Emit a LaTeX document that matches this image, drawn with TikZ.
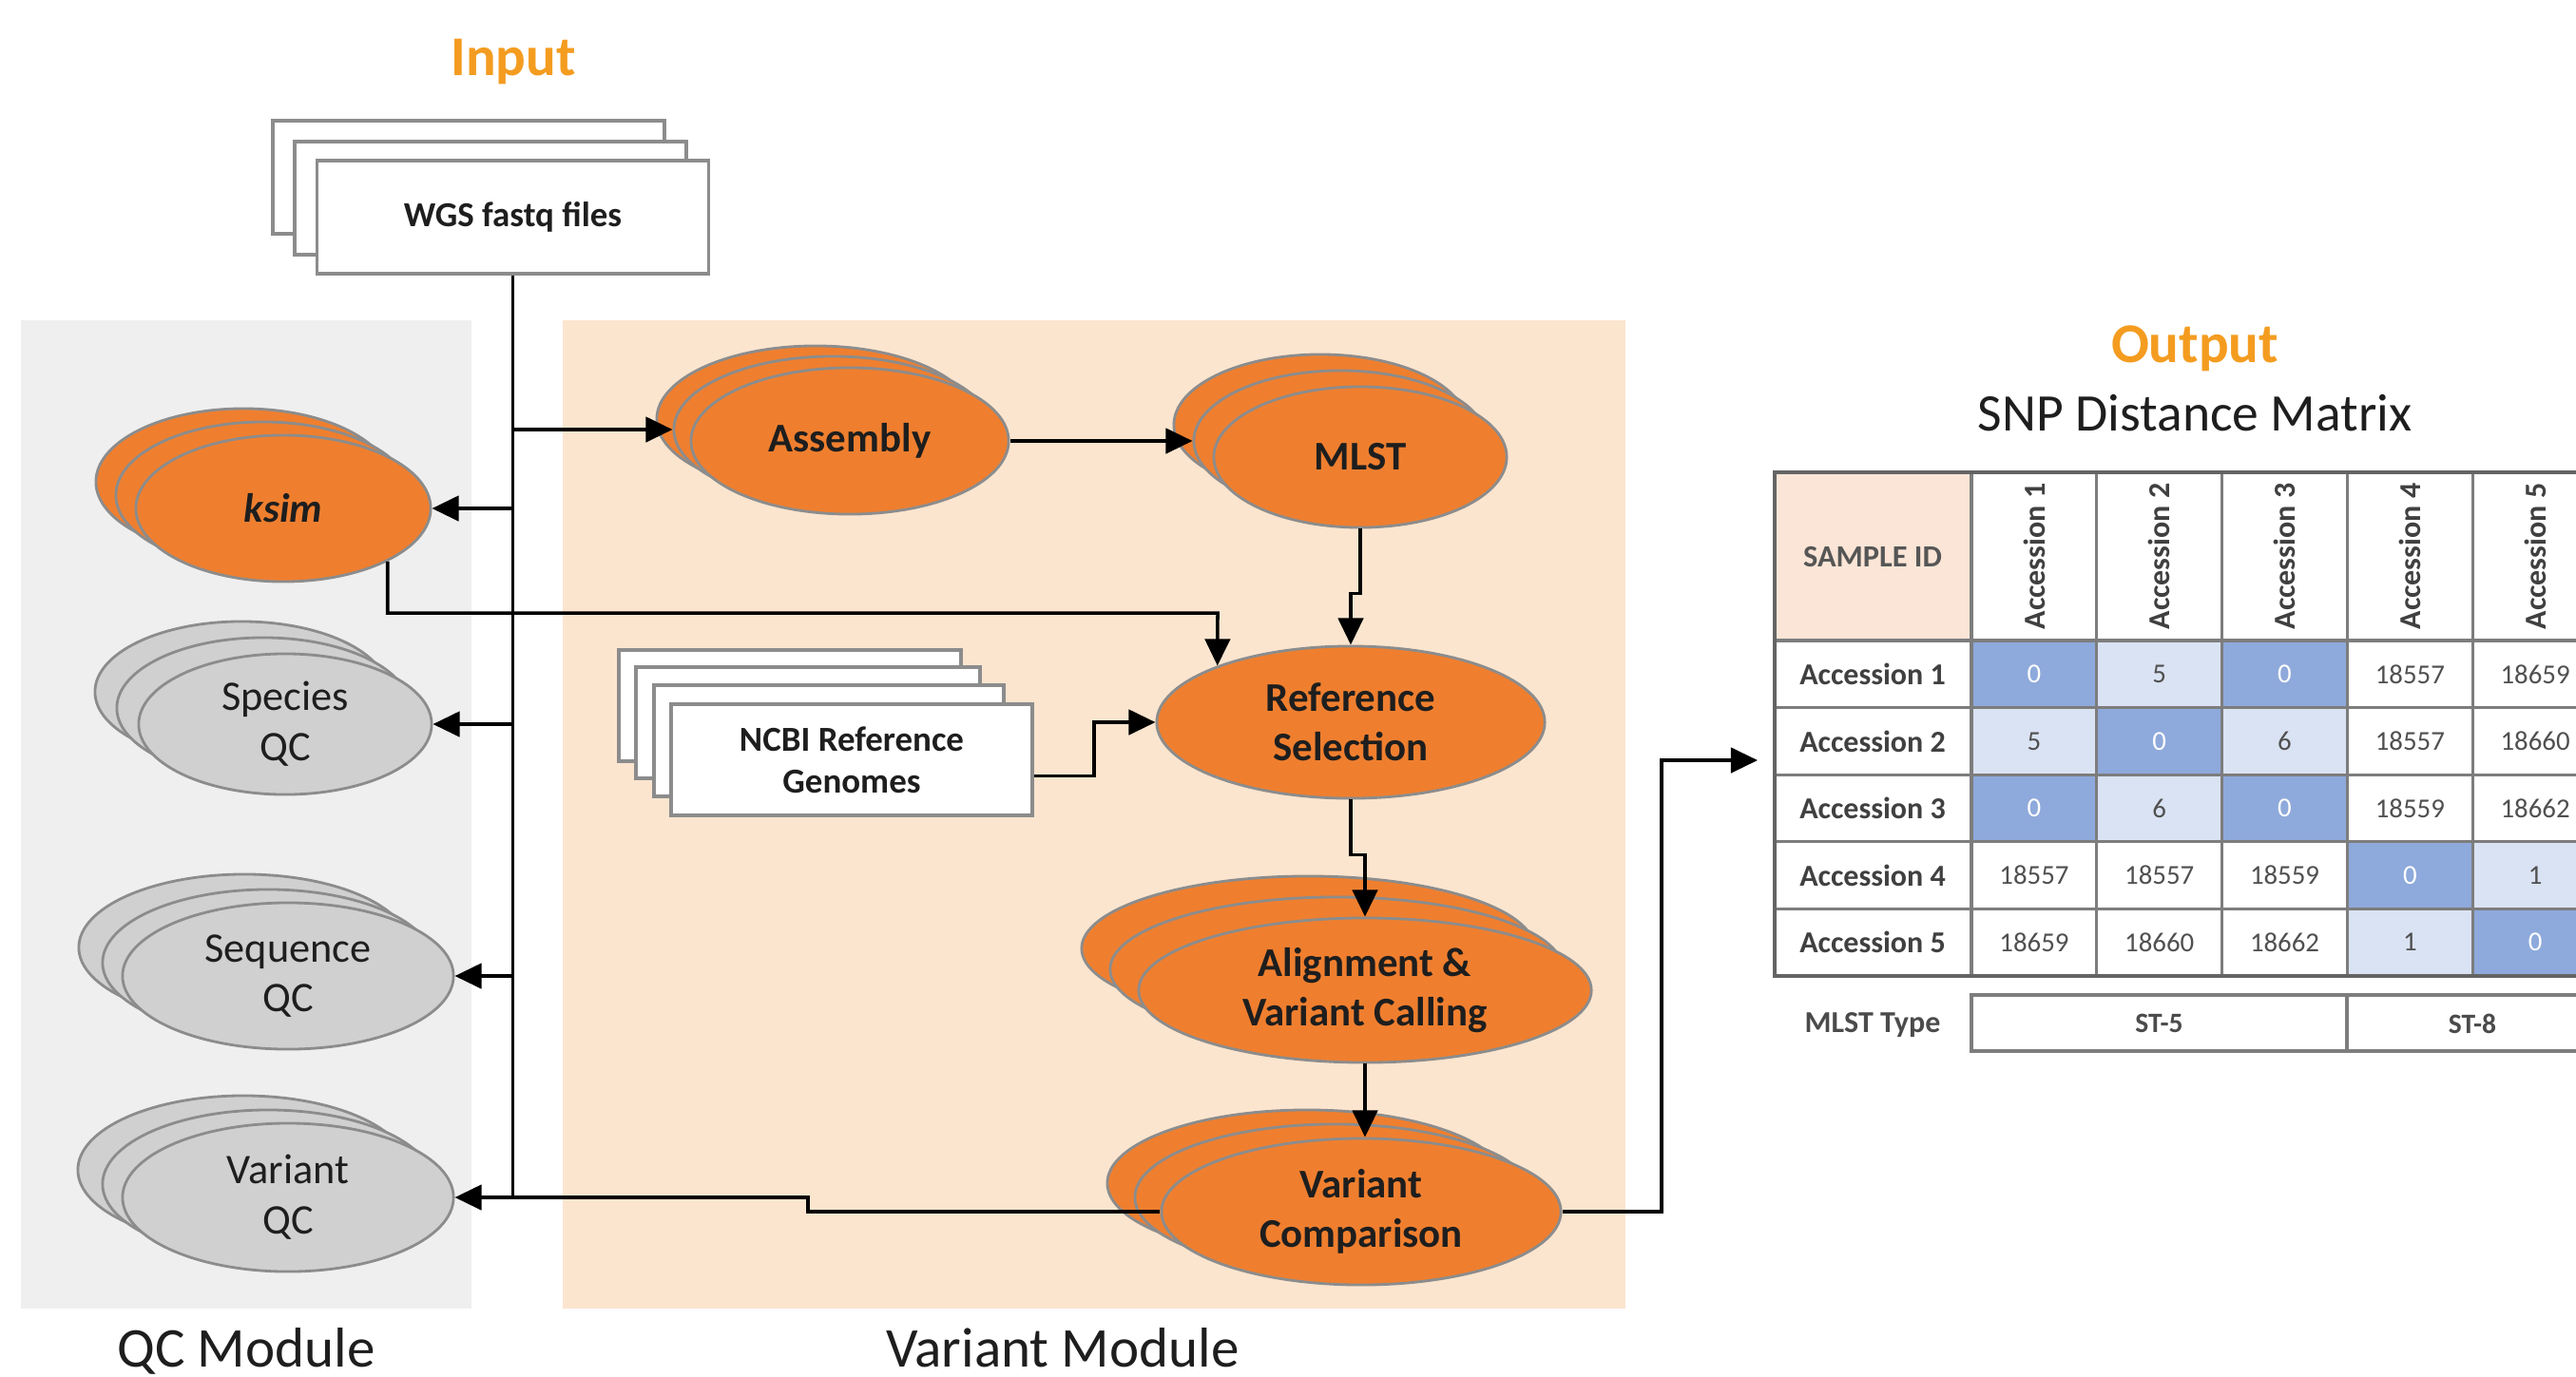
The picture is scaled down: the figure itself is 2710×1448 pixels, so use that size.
\documentclass[tikz,border=0pt]{standalone}
\usepackage{fontspec}
\setmainfont{Carlito}
\usetikzlibrary{shapes.geometric,arrows.meta,calc}
\definecolor{orgfill}{RGB}{239,127,47}
\definecolor{edgegray}{RGB}{140,140,140}
\definecolor{grayfill}{RGB}{208,208,208}
\definecolor{qcbg}{RGB}{239,239,239}
\definecolor{varbg}{RGB}{251,229,207}
\definecolor{titleorg}{RGB}{244,156,32}
\definecolor{dkblue}{RGB}{142,169,219}
\definecolor{ltblue}{RGB}{218,227,243}
\definecolor{peach}{RGB}{251,229,214}
\definecolor{gridc}{RGB}{125,125,125}
\definecolor{txtdark}{RGB}{30,30,30}
\definecolor{numgray}{RGB}{80,80,80}
\tikzset{
  oe/.style={ellipse, draw=edgegray, fill=orgfill, line width=0.8pt, inner sep=0pt, align=center,
    text=txtdark, font=\bfseries\fontsize{12.2}{14.8}\selectfont},
  ge/.style={ellipse, draw=edgegray, fill=grayfill, line width=0.8pt, inner sep=0pt, align=center,
    text=txtdark, font=\fontsize{12.6}{15}\selectfont},
  filebox/.style={rectangle, draw=edgegray, fill=white, line width=1pt, inner sep=0pt, align=center,
    text=txtdark, font=\bfseries\fontsize{10.5}{12.5}\selectfont},
  arr/.style={-{Triangle[length=8pt,width=7.5pt]}, line width=1pt, black},
  conn/.style={line width=1pt, black},
  titlestyle/.style={text=titleorg, font=\bfseries\fontsize{16.8}{20}\selectfont, inner sep=0pt},
  modlabel/.style={text=txtdark, font=\fontsize{16.8}{20}\selectfont, inner sep=0pt},
  rowlab/.style={text=txtdark!85, font=\bfseries\fontsize{9.1}{11}\selectfont, inner sep=0pt},
  numtxt/.style={font=\fontsize{8.2}{10}\selectfont, inner sep=0pt},
  gridline/.style={draw=gridc, line width=0.9pt}
}
\begin{document}
\begin{tikzpicture}[x=0.01cm,y=-0.01cm]
\useasboundingbox (0,0) rectangle (2710,1448);
\fill[white] (0,0) rectangle (2710,1448);

% module backgrounds
\fill[qcbg] (22,337) rectangle (496,1377);
\fill[varbg] (592,337) rectangle (1710,1377);

% titles and labels
\node[titlestyle] (inp) at (540,65) {Input};
\node[titlestyle] (outp) at (2309,367) {Output};
\node[modlabel, font=\fontsize{15.8}{19}\selectfont] (snp) at (2309,435) {SNP Distance Matrix};
\node[modlabel, anchor=base] (qcl) at (259,1438) {QC Module};
\node[modlabel, anchor=base] (vml) at (1118,1438) {Variant Module};

% input files
\node[filebox, minimum width=4.12cm, minimum height=1.19cm] (wgs1) at (493,186.5) {};
\node[filebox, minimum width=4.12cm, minimum height=1.19cm] (wgs2) at (516,208.5) {};
\node[filebox, minimum width=4.12cm, minimum height=1.19cm] (wgs) at (539.5,228.5) {WGS fastq files};

% NCBI reference genomes
\node[filebox, minimum width=3.60cm, minimum height=1.17cm] (ncbi1) at (831,742.5) {};
\node[filebox, minimum width=3.62cm, minimum height=1.17cm] (ncbi2) at (850,760.5) {};
\node[filebox, minimum width=3.68cm, minimum height=1.17cm] (ncbi3) at (872,779.5) {};
\node[filebox, minimum width=3.80cm, minimum height=1.17cm] (ncbi) at (896,799.5) {NCBI Reference\\Genomes};

% QC module ellipses
\node[oe, minimum width=3.10cm, minimum height=1.54cm] (ksim1) at (256,507) {};
\node[oe, minimum width=3.10cm, minimum height=1.54cm] (ksim2) at (277,521) {};
\node[oe, minimum width=3.10cm, minimum height=1.54cm] (ksim) at (298,535) {\textit{ksim}};

\node[ge, minimum width=3.08cm, minimum height=1.48cm] (spc1) at (254,728) {};
\node[ge, minimum width=3.08cm, minimum height=1.48cm] (spc2) at (277,745) {};
\node[ge, minimum width=3.08cm, minimum height=1.48cm] (spc) at (300,762) {Species\\QC};

\node[ge, minimum width=3.48cm, minimum height=1.54cm] (seq1) at (257,997) {};
\node[ge, minimum width=3.48cm, minimum height=1.54cm] (seq2) at (282,1013) {};
\node[ge, minimum width=3.48cm, minimum height=1.54cm] (seq) at (303,1027) {Sequence\\QC};

\node[ge, minimum width=3.48cm, minimum height=1.56cm] (vqc1) at (256,1231) {};
\node[ge, minimum width=3.48cm, minimum height=1.56cm] (vqc2) at (282,1246) {};
\node[ge, minimum width=3.48cm, minimum height=1.56cm] (vqc) at (303,1260) {Variant\\QC};

% variant module ellipses
\node[oe, minimum width=3.34cm, minimum height=1.54cm] (asm1) at (858,441) {};
\node[oe, minimum width=3.34cm, minimum height=1.54cm] (asm2) at (876,452) {};
\node[oe, minimum width=3.34cm, minimum height=1.54cm] (asm) at (894,464) {Assembly};

\node[oe, minimum width=3.08cm, minimum height=1.48cm] (mlst1) at (1389,447) {};
\node[oe, minimum width=3.08cm, minimum height=1.48cm] (mlst2) at (1410,464) {};
\node[oe, minimum width=3.08cm, minimum height=1.48cm] (mlst) at (1431,481) {MLST};

\node[oe, minimum width=4.08cm, minimum height=1.60cm] (rs) at (1421,760) {Reference\\Selection};

\node[oe, minimum width=4.76cm, minimum height=1.52cm] (aln1) at (1376,998) {};
\node[oe, minimum width=4.76cm, minimum height=1.52cm] (aln2) at (1406,1020) {};
\node[oe, minimum width=4.76cm, minimum height=1.52cm] (aln) at (1436,1042) {Alignment \&\\Variant Calling};

\node[oe, minimum width=4.20cm, minimum height=1.54cm] (vc1) at (1375,1245) {};
\node[oe, minimum width=4.20cm, minimum height=1.54cm] (vc2) at (1404,1260) {};
\node[oe, minimum width=4.20cm, minimum height=1.54cm] (vc) at (1432,1275) {Variant\\Comparison};

% helper coordinates
\coordinate (kr) at (1281,645);
\coordinate (vq1) at (850,1275);
\coordinate (vt1) at (1748,1275);
\coordinate (tin) at (1849,800);

% connectors
\draw[conn] (wgs.south) -- (wgs.south |- vqc.east);
\draw[arr] (wgs.south |- asm2.west) -- (asm2.west);
\draw[arr] (wgs.south |- ksim.east) -- (ksim.east);
\draw[arr] (wgs.south |- spc.east) -- (spc.east);
\draw[arr] (wgs.south |- seq.east) -- (seq.east);
\draw[arr] (vc.west) -- (vq1) |- (vqc.east);
\draw[arr] (asm.east) -- (mlst2.west);
\draw[arr] (mlst.south) -- ++(0,68) -| (rs.north);
\draw[arr] (ksim.-27) |- (kr) -- (rs.157.5);
\draw[arr] (ncbi.-5) -- ++(63,0) |- (rs.west);
\draw[arr] (rs.south) -- ++(0,58) -| (aln.north);
\draw[arr] (aln.south) -- (aln.south |- vc.north);
\draw[arr] (vc.east) -- (vt1) |- (tin);

% SNP distance matrix table
\begin{scope}
\clip (1800,470) rectangle (2710,1130);
\fill[peach] (1867,497) rectangle (2074,674);
\foreach \c/\r in {1/1,3/1,2/2,1/3,3/3,4/4,5/5}
  \fill[dkblue] ({2074+131.8*(\c-1)},{674+70.6*(\r-1)}) rectangle ++(131.8,70.6);
\foreach \c/\r in {2/1,1/2,3/2,2/3,5/4,4/5}
  \fill[ltblue] ({2074+131.8*(\c-1)},{674+70.6*(\r-1)}) rectangle ++(131.8,70.6);
% grid
\foreach \c in {0,...,4}
  \draw[gridline] ({2074+131.8*\c},497) -- ({2074+131.8*\c},1027);
\foreach \r in {0,...,4}
  \draw[gridline] (1867,{674+70.6*\r}) -- (2733,{674+70.6*\r});
\draw[gridline, line width=1.1pt, draw=gridc!80!black] (1867,497) rectangle (2733,1027);
\draw[gridline] (2074,1047) rectangle (2733,1106);
\draw[gridline] (2469,1047) -- (2469,1106);
% header
\node[rowlab, text=txtdark!75, font=\bfseries\fontsize{9.2}{11}\selectfont] (sid) at (1970,585.5) {SAMPLE ID};
\foreach \c in {1,...,5}
  \node[rowlab, rotate=90] (hd\c) at ({2074+131.8*(\c-0.5)},585.5) {Accession \c};
\foreach \r in {1,...,5}
  \node[rowlab] (rl\r) at (1970,{674+70.6*(\r-0.5)}) {Accession \r};
% values
\foreach \r/\c/\v/\tc in {
  1/1/0/white, 1/2/5/numgray, 1/3/0/white, 1/4/18557/numgray, 1/5/18659/numgray,
  2/1/5/numgray, 2/2/0/white, 2/3/6/numgray, 2/4/18557/numgray, 2/5/18660/numgray,
  3/1/0/white, 3/2/6/numgray, 3/3/0/white, 3/4/18559/numgray, 3/5/18662/numgray,
  4/1/18557/numgray, 4/2/18557/numgray, 4/3/18559/numgray, 4/4/0/white, 4/5/1/numgray,
  5/1/18659/numgray, 5/2/18660/numgray, 5/3/18662/numgray, 5/4/1/numgray, 5/5/0/white}
  \node[numtxt, text=\tc] (v\r-\c) at ({2074+131.8*(\c-0.5)},{674+70.6*(\r-0.5)}) {\v};
% MLST row
\node[rowlab, text=txtdark!80] (mlstt) at (1970,1078) {MLST Type};
\node[rowlab, text=txtdark!80, font=\bfseries\fontsize{8.4}{10}\selectfont] (st5) at (2271.5,1077) {ST-5};
\node[rowlab, text=txtdark!80, font=\bfseries\fontsize{8.4}{10}\selectfont] (st8) at (2601,1077) {ST-8};
\end{scope}
\end{tikzpicture}
\end{document}
